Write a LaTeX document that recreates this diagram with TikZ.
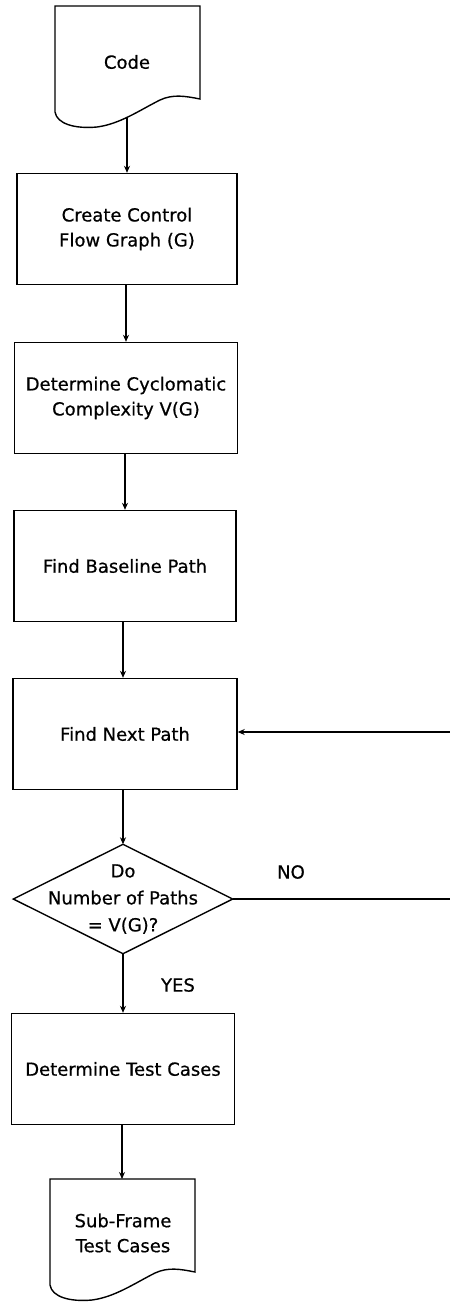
\documentclass[tikz,border=0pt]{standalone}
\usepackage{fontspec}
\setmainfont[FakeBold=0.6]{DejaVu Sans}
\usetikzlibrary{arrows.meta}
\begin{document}
\begin{tikzpicture}[x=1pt,y=-1pt,
  line width=1.4pt,
  every node/.style={font=\fontsize{18}{25}\selectfont, align=center, inner sep=0pt},
  procbox/.style={draw, rectangle, minimum height=111pt},
  flow/.style={-{Stealth[length=7pt,width=6pt]}},
  docpic/.pic={
    \draw (0,0) -- (145,0) -- (145,93)
      .. controls (130,90) and (118,88) .. (105,94)
      .. controls (85,104) and (65,118) .. (42,121)
      .. controls (20,123) and (2,118) .. (0,106) -- cycle;
  }
]
\useasboundingbox (0,0) rectangle (450,1302);

% input document
\pic at (55,6) {docpic};
\node (code) at (127,62) {Code};
\coordinate (codeout) at (127,117);

% processing steps
\node[procbox, minimum width=220pt] (g)    at (127,229) {Create Control\\Flow Graph (G)};
\node[procbox, minimum width=223pt] (vg)   at (126,398) {Determine Cyclomatic\\Complexity V(G)};
\node[procbox, minimum width=222pt] (base) at (125,566) {Find Baseline Path};
\node[procbox, minimum width=224pt] (next) at (125,734) {Find Next Path};

% decision
\node[minimum width=218pt, minimum height=108pt, font=\fontsize{18}{27}\selectfont] (dec) at (123,899)
  {Do\\Number of Paths\\= V(G)?};
\draw (dec.north) -- (dec.east) -- (dec.south) -- (dec.west) -- cycle;

\node[procbox, minimum width=223pt] (tc) at (123,1069) {Determine Test Cases};

% output document
\pic at (50,1179) {docpic};
\node (sub) at (123,1233) {Sub-Frame\\Test Cases};
\coordinate (subin) at (122,1179);

% loop ends at the page edge
\coordinate (noend) at (450,899);
\coordinate (loopin) at (450,732);

% connectors
\draw[flow] (codeout) -- (codeout |- g.north);
\draw[flow] (g.south -| 126,0) -- (126,0 |- vg.north);
\draw[flow] (vg.south -| 125,0) -- (125,0 |- base.north);
\draw[flow] (base.south -| 123,0) -- (123,0 |- next.north);
\draw[flow] (next.south -| dec.north) -- (dec.north);
\draw[flow] (dec.south) -- (dec.south |- tc.north);
\draw[flow] (tc.south -| subin) -- (subin);
\draw (dec.east) -- (noend);
\draw[flow] (loopin) -- (loopin -| next.east);

% branch labels
\node (no)  at (291,872) {NO};
\node (yes) at (178,985) {YES};
\end{tikzpicture}
\end{document}
